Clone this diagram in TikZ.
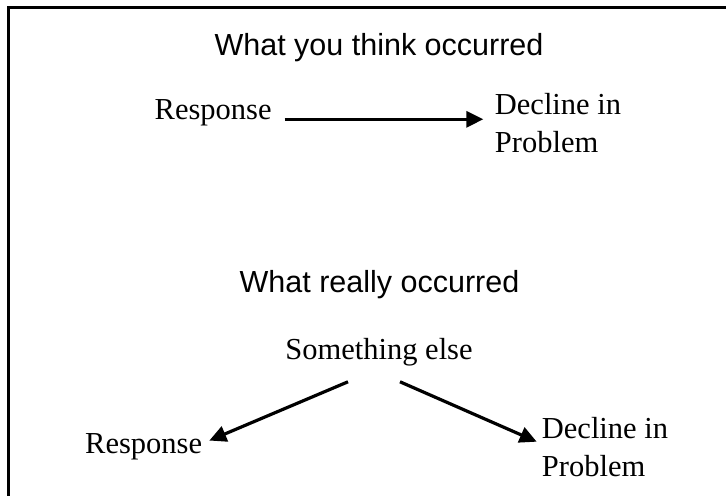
\documentclass[tikz,border=0pt]{standalone}
\usepackage{fontspec}
\setmainfont{Liberation Serif}
\setsansfont{Liberation Sans}
\usetikzlibrary{arrows.meta}

\begin{document}
\begin{tikzpicture}
[x=1bp,y=-1bp,
  every node/.style={inner sep=0pt,anchor=base west},
  heading/.style={font=\sffamily,anchor=base},
  twoline/.style={align=left},
  arr/.style={-{Triangle[length=17bp,width=16bp]},line width=3.2bp}]
\fontsize{30.5bp}{38bp}\selectfont
\useasboundingbox (0,0) rectangle (726,496);
\draw[line width=2.7bp] (726,7.3) -- (8.7,7.3) -- (8.7,496);
\node[heading] (think) at (379,56) {What you think occurred};
\node[outer sep=13bp] (resp) at (141.7,119.3) {Response};
\node[twoline,outer sep=11.6bp] (decl) at (483.3,153) {Decline in\\Problem};
\draw[arr] (resp.base east) -- (decl.base west |- resp.base east);
\node[heading] (really) at (379.5,292) {What really occurred};
\node[anchor=base] (else) at (379,359) {Something else};
\node (resp2) at (85,453.3) {Response};
\node[twoline] (decl2) at (541.7,476) {Decline in\\Problem};
\draw[arr] ([shift={(-31,16)}]else.south) -- ([shift={(7,-6)}]resp2.east);
\draw[arr] ([shift={(21,16)}]else.south) -- ([shift={(-5,-34.3)}]decl2.base west);
\end{tikzpicture}
\end{document}
